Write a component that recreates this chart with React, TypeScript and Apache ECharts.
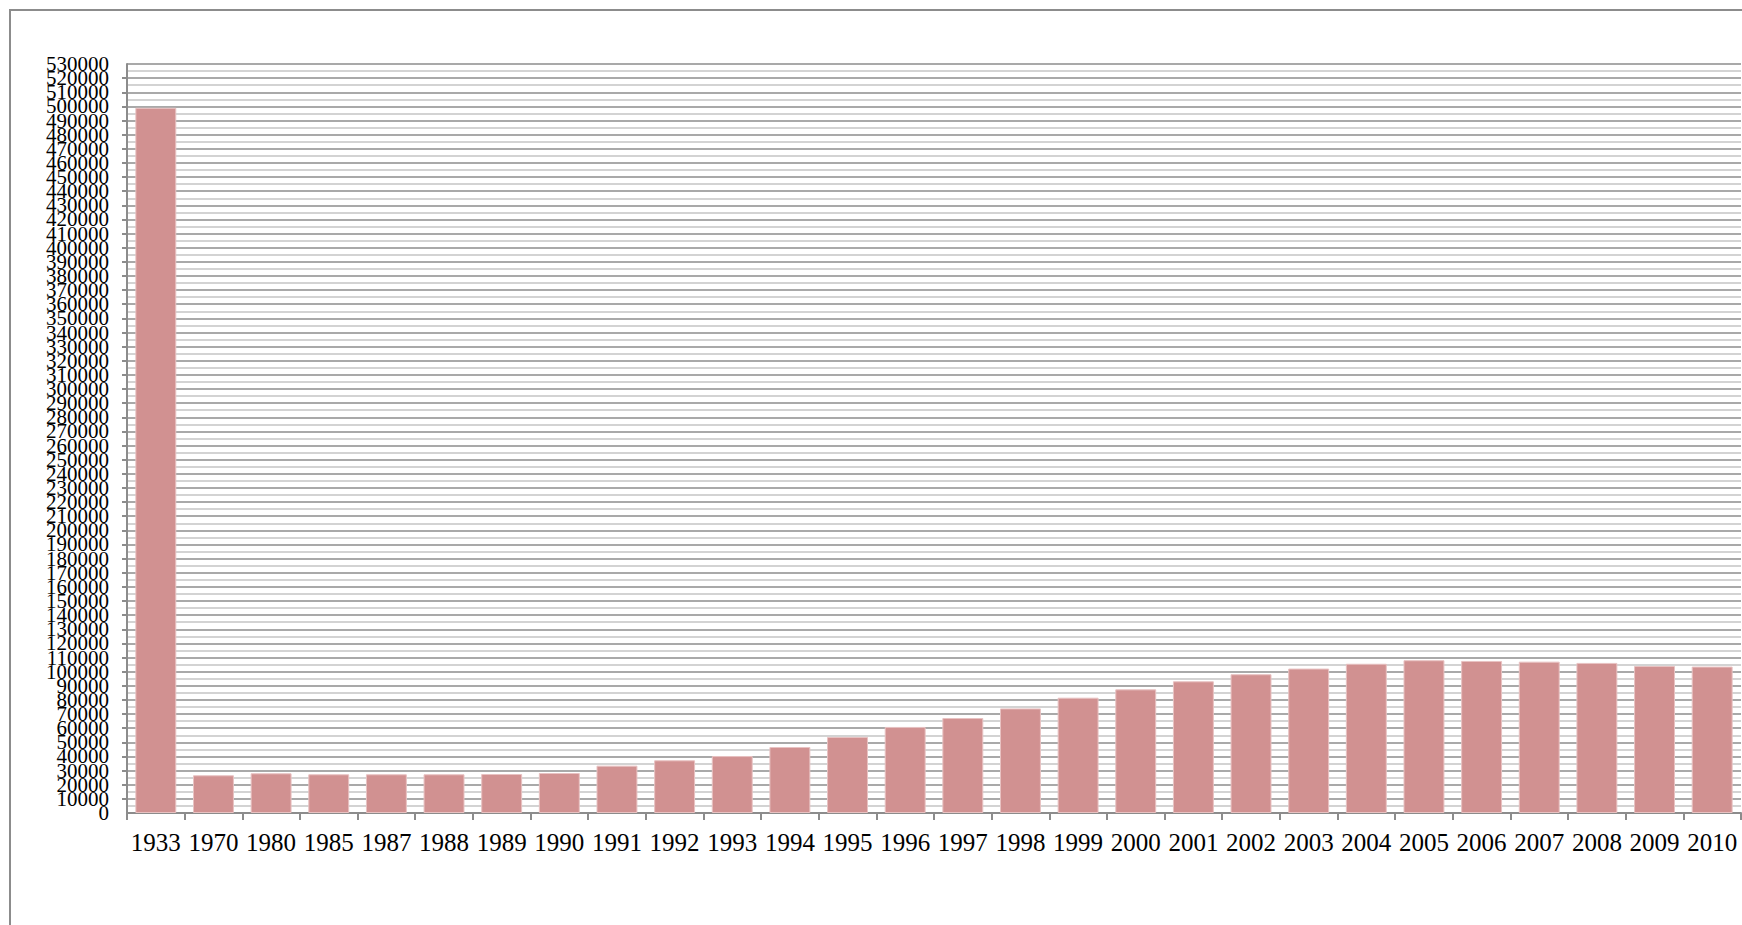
import React, { useEffect, useRef } from "react";
import * as echarts from "echarts";

const categories = [
  "1933", "1970", "1980", "1985", "1987", "1988", "1989", "1990", "1991", "1992",
  "1993", "1994", "1995", "1996", "1997", "1998", "1999", "2000", "2001", "2002",
  "2003", "2004", "2005", "2006", "2007", "2008", "2009", "2010",
];

const values = [
  499000, 26700, 28100, 27400, 27400, 27400, 27600, 28300, 33500, 37300,
  40300, 46700, 53800, 60900, 67200, 74000, 81600, 87500, 93200, 98200,
  102200, 105600, 108100, 107600, 107100, 106200, 104000, 103600,
];

const yMin = 0;
const yMax = 530000;
const yStep = 10000;

const serif = "'Liberation Serif', 'Times New Roman', Times, serif";

export default function App() {
  const ref = useRef<HTMLDivElement>(null);

  useEffect(() => {
    if (!ref.current) return;
    const chart = echarts.init(ref.current, null, { renderer: "svg" });
    const labelBase = {
      margin: 18,
      color: "#000000",
      fontFamily: serif,
      fontSize: 21,
      lineHeight: 14,
      hideOverlap: false,
    };
    chart.setOption({
      animation: false,
      backgroundColor: "#ffffff",
      textStyle: { fontFamily: serif },
      graphic: [
        {
          type: "rect",
          shape: { x: 10, y: 10, width: 1800, height: 1000 },
          style: { fill: "none", stroke: "#8c8c8c", lineWidth: 2 },
          silent: true,
        },
      ],
      grid: { left: 127, top: 64, right: 1, bottom: 112, containLabel: false },
      xAxis: {
        type: "category",
        data: categories,
        boundaryGap: true,
        axisLine: { show: true, lineStyle: { color: "#8c8c8c", width: 2 } },
        axisTick: { show: true, length: 7, lineStyle: { color: "#8c8c8c", width: 2 } },
        axisLabel: {
          interval: 0,
          margin: 17,
          color: "#000000",
          fontFamily: serif,
          fontSize: 25,
        },
        splitLine: { show: false },
      },
      yAxis: [
        {
          type: "value",
          position: "left",
          min: yMin,
          max: yMax,
          interval: yStep,
          axisLine: { show: true, lineStyle: { color: "#8c8c8c", width: 2 } },
          axisTick: { show: true, length: 5, lineStyle: { color: "#8c8c8c", width: 2 } },
          minorTick: { show: false, splitNumber: 2 },
          minorSplitLine: { show: true, lineStyle: { color: "#c4c4c4", width: 1.5 } },
          splitLine: { show: true, lineStyle: { color: "#8c8c8c", width: 1.5 } },
          axisLabel: {
            ...labelBase,
            showMinLabel: false,
            showMaxLabel: false,
            formatter: (v: number) => String(v),
          },
        },
        {
          type: "value",
          position: "left",
          offset: 0,
          min: yMin,
          max: yMax,
          interval: yStep,
          axisLine: { show: false },
          axisTick: { show: false },
          splitLine: { show: false },
          axisLabel: {
            ...labelBase,
            showMinLabel: true,
            showMaxLabel: true,
            formatter: (v: number) => (v === yMin || v === yMax ? String(v) : ""),
          },
        },
      ],
      series: [
        {
          type: "bar",
          yAxisIndex: 0,
          data: values,
          barCategoryGap: "29%",
          itemStyle: { color: "#d19191", borderColor: "#e8c2c2", borderWidth: 1 },
        },
      ],
    });
    return () => chart.dispose();
  }, []);

  return (
    <div
      ref={ref}
      style={{ position: "fixed", left: 0, top: 0, width: 1742, height: 925 }}
    />
  );
}
